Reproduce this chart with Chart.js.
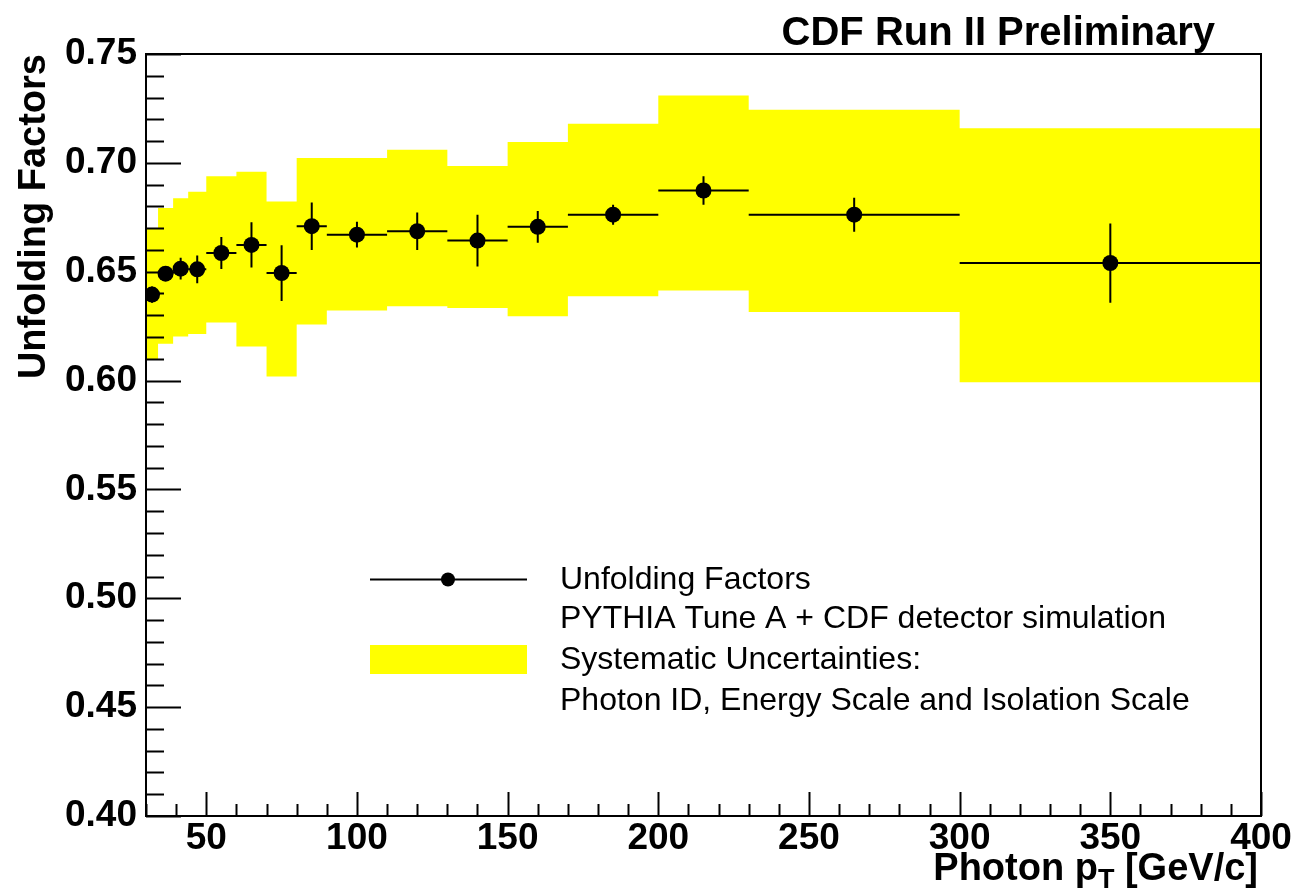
<!DOCTYPE html>
<html>
<head>
<meta charset="utf-8">
<script src="https://cdn.jsdelivr.net/npm/chart.js@4.4.1/dist/chart.umd.min.js"></script>
<style>
  html, body { margin: 0; padding: 0; background: #fff; }
</style>
</head>
<body>
<canvas id="unfoldChart" width="1294" height="890"></canvas>
<script>
// bin edges in photon pT [GeV/c]
const binEdges = [30, 34, 39, 44, 50, 60, 70, 80, 90, 110, 130, 150, 170, 200, 230, 300, 400];
// unfolding factor per bin and its (stat) error
const unfolding = [0.6395, 0.6491, 0.6514, 0.6511, 0.6586, 0.6623, 0.6494, 0.6709,
                   0.6670, 0.6686, 0.6643, 0.6706, 0.6762, 0.6873, 0.6762, 0.6540];
const statErr   = [0.0037, 0.0030, 0.0050, 0.0064, 0.0073, 0.0104, 0.0128, 0.0109,
                   0.0059, 0.0086, 0.0119, 0.0073, 0.0046, 0.0065, 0.0078, 0.0182];
// systematic band, upper and lower edge per bin
const systHigh  = [0.6697, 0.6793, 0.6837, 0.6867, 0.6938, 0.6959, 0.6822, 0.7022,
                   0.7022, 0.7060, 0.6986, 0.7096, 0.7180, 0.7309, 0.7244, 0.7159];
const systLow   = [0.6096, 0.6169, 0.6203, 0.6214, 0.6267, 0.6157, 0.6019, 0.6257,
                   0.6322, 0.6341, 0.6333, 0.6295, 0.6387, 0.6414, 0.6315, 0.5992];
const xTicks = [50, 100, 150, 200, 250, 300, 350, 400];
const yTicks = [0.40, 0.45, 0.50, 0.55, 0.60, 0.65, 0.70, 0.75];
const xMinor = 10;
const yMinor = 0.01;

const FONT = '"Liberation Sans", Arial, Helvetica, sans-serif';
const YELLOW = '#ffff00';

// step lines need one point per edge, last bin value repeated at the end
const stepData = vals => binEdges.map((e, i) => ({ x: e, y: vals[Math.min(i, vals.length - 1)] }));
const pointData = unfolding.map((v, i) => ({ x: (binEdges[i] + binEdges[i + 1]) / 2, y: v }));

// horizontal bin-width bars + vertical error bars
const errorBars = {
  id: 'errorBars',
  afterDatasetsDraw(chart) {
    const { ctx, scales: { x, y } } = chart;
    ctx.save();
    ctx.strokeStyle = '#000';
    ctx.lineWidth = 2;
    unfolding.forEach((v, i) => {
      const yc = y.getPixelForValue(v);
      const xc = x.getPixelForValue(pointData[i].x);
      ctx.beginPath();
      ctx.moveTo(x.getPixelForValue(binEdges[i]), yc);
      ctx.lineTo(x.getPixelForValue(binEdges[i + 1]), yc);
      ctx.moveTo(xc, y.getPixelForValue(v + statErr[i]));
      ctx.lineTo(xc, y.getPixelForValue(v - statErr[i]));
      ctx.stroke();
    });
    ctx.restore();
  }
};

// ROOT style frame with ticks on the inside, titles and legend
const rootFrame = {
  id: 'rootFrame',
  afterDraw(chart) {
    const { ctx, chartArea: a, scales: { x, y } } = chart;
    ctx.save();
    ctx.strokeStyle = '#000';
    ctx.lineWidth = 2;

    // y ticks
    for (let v = y.min; v <= y.max + 1e-9; v += yMinor) {
      const py = Math.round(y.getPixelForValue(v)) + 0.5;
      const major = yTicks.some(t => Math.abs(t - v) < 1e-6);
      ctx.beginPath();
      ctx.moveTo(a.left, py);
      ctx.lineTo(a.left + (major ? 35 : 18), py);
      ctx.stroke();
    }
    // x ticks
    for (let v = x.min; v <= x.max; v += xMinor) {
      const px = Math.round(x.getPixelForValue(v)) + 0.5;
      const major = xTicks.includes(v);
      ctx.beginPath();
      ctx.moveTo(px, a.bottom);
      ctx.lineTo(px, a.bottom - (major ? 24 : 12));
      ctx.stroke();
    }
    ctx.strokeRect(a.left, a.top, a.right - a.left, a.bottom - a.top);

    // x-axis title with subscript
    ctx.fillStyle = '#000';
    ctx.textBaseline = 'alphabetic';
    const big = 'bold 38px ' + FONT, small = 'bold 27px ' + FONT;
    ctx.font = big;
    const w1 = ctx.measureText('Photon p').width;
    const w3 = ctx.measureText(' [GeV/c]').width;
    ctx.font = small;
    const w2 = ctx.measureText('T').width;
    const tx = 1258 - (w1 + w2 + w3);
    const ty = 880;
    ctx.font = big;
    ctx.fillText('Photon p', tx, ty);
    ctx.font = small;
    ctx.fillText('T', tx + w1, ty + 8);
    ctx.font = big;
    ctx.fillText(' [GeV/c]', tx + w1 + w2, ty);

    // header
    ctx.textAlign = 'right';
    ctx.font = 'bold 40px ' + FONT;
    ctx.fillText('CDF Run II Preliminary', 1215, 45);

    // legend
    ctx.textAlign = 'left';
    ctx.textBaseline = 'middle';
    ctx.font = '32px ' + FONT;
    ctx.fillText('Unfolding Factors', 560, 580);
    ctx.fillText('PYTHIA Tune A + CDF detector simulation', 560, 619);
    ctx.fillText('Systematic Uncertainties:', 560, 660);
    ctx.fillText('Photon ID, Energy Scale and Isolation Scale', 560, 701);
    ctx.beginPath();
    ctx.moveTo(370, 579.5);
    ctx.lineTo(527, 579.5);
    ctx.stroke();
    ctx.beginPath();
    ctx.arc(448, 579.5, 7, 0, Math.PI * 2);
    ctx.fill();
    ctx.fillStyle = YELLOW;
    ctx.fillRect(370, 645, 157, 29);
    ctx.restore();
  }
};

new Chart(document.getElementById('unfoldChart'), {
  type: 'scatter',
  data: {
    datasets: [
      {
        type: 'line', label: 'syst high', data: stepData(systHigh), stepped: true,
        fill: '+1', backgroundColor: YELLOW, borderWidth: 0, borderColor: YELLOW,
        pointRadius: 0, order: 2
      },
      {
        type: 'line', label: 'syst low', data: stepData(systLow), stepped: true,
        fill: false, borderWidth: 0, borderColor: YELLOW, pointRadius: 0, order: 3
      },
      {
        label: 'Unfolding Factors', data: pointData, pointRadius: 8,
        backgroundColor: '#000', borderWidth: 0, order: 1
      }
    ]
  },
  options: {
    responsive: false,
    animation: false,
    devicePixelRatio: 1,
    layout: { padding: { left: 0, right: 33, top: 54, bottom: 0 } },
    plugins: { legend: { display: false }, tooltip: { enabled: false } },
    scales: {
      x: {
        type: 'linear', min: 30, max: 400,
        afterBuildTicks: s => { s.ticks = xTicks.map(v => ({ value: v })); },
        afterFit: s => { s.height = 74; },
        grid: { display: false, drawTicks: false },
        border: { display: false },
        ticks: { color: '#000', padding: 1, maxRotation: 0, font: { family: FONT, size: 37, weight: 'bold' } }
      },
      y: {
        min: 0.40, max: 0.75,
        afterBuildTicks: s => { s.ticks = yTicks.map(v => ({ value: v })); },
        afterFit: s => { s.width = 146; },
        grid: { display: false, drawTicks: false },
        border: { display: false },
        ticks: { color: '#000', padding: 9, callback: v => v.toFixed(2), font: { family: FONT, size: 37, weight: 'bold' } },
        title: {
          display: true, text: 'Unfolding Factors', align: 'end', color: '#000',
          padding: { top: 12, bottom: 0 }, font: { family: FONT, size: 38, weight: 'bold' }
        }
      }
    }
  },
  plugins: [errorBars, rootFrame]
});
</script>
</body>
</html>
